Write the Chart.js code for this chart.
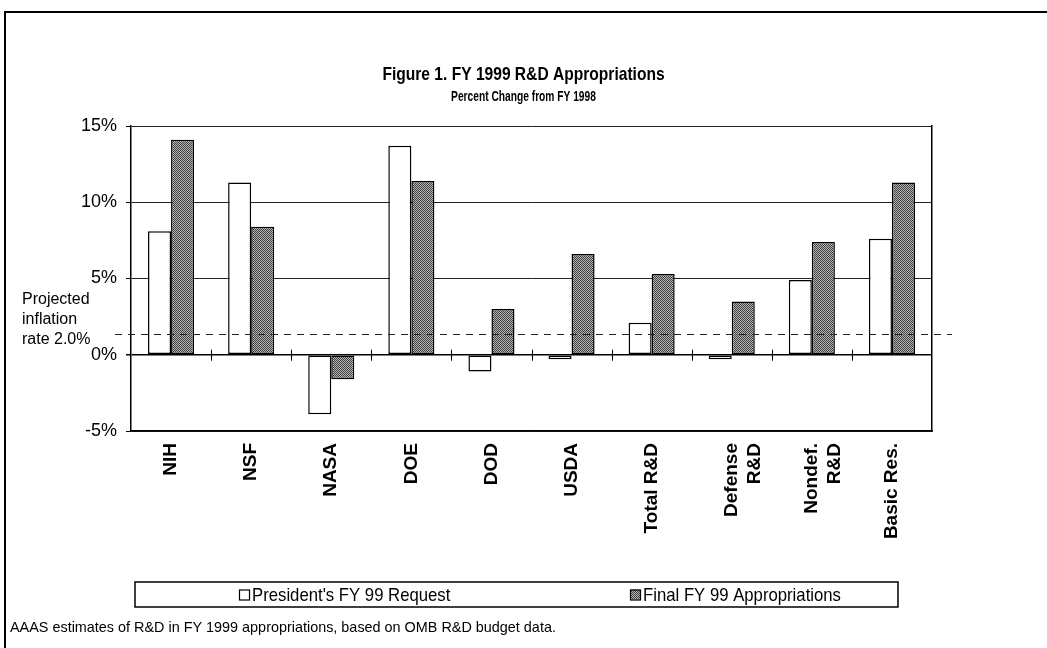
<!DOCTYPE html>
<html>
<head>
<meta charset="utf-8">
<script src="https://cdn.jsdelivr.net/npm/chart.js@4.4.0/dist/chart.umd.min.js"></script>
<style>
  html, body { margin: 0; padding: 0; background: #fff; }
  #wrap { position: relative; width: 1047px; height: 648px; overflow: hidden; }
  #frame { position: absolute; left: 4px; top: 11px; width: 1100px; height: 700px;
           border-left: 2px solid #000; border-top: 2px solid #000; }
  canvas { position: absolute; left: 0; top: 0; }
</style>
</head>
<body>
<div id="wrap">
  <div id="frame"></div>
  <canvas id="rdChart" width="1047" height="648"></canvas>
</div>
<script>
// -- data (percent change from FY 1998)
var categories = ['NIH', 'NSF', 'NASA', 'DOE', 'DOD', 'USDA', 'Total R&D',
                  ['Defense', 'R&D'], ['Nondef.', 'R&D'], 'Basic Res.'];
var requestFY99 = [8.1, 11.3, -3.9, 13.7, -1.1, -0.3, 2.1, -0.3, 4.9, 7.6];
var finalFY99   = [14.1, 8.4, -1.6, 11.4, 3.0, 6.6, 5.3, 3.5, 7.4, 11.3];
var seriesNames = ["President's FY 99 Request", 'Final FY 99 Appropriations'];
var yTicks = [-5, 0, 5, 10, 15];
var inflationLine = [1.35];   // where the dashed line sits on the axis
var inflationLabel = ['Projected', 'inflation', 'rate 2.0%'];
var titleText = 'Figure 1. FY 1999 R&D Appropriations';
var subtitleText = 'Percent Change from FY 1998';
var footnote = 'AAAS estimates of R&D in FY 1999 appropriations, based on OMB R&D budget data.';

var sans = "'Liberation Sans', Arial, sans-serif";

Chart.defaults.font.family = sans;
Chart.defaults.color = '#000';

var canvas = document.getElementById('rdChart');

// stippled grey like the printed original
var pat = document.createElement('canvas');
pat.width = 2; pat.height = 2;
var pctx = pat.getContext('2d');
pctx.fillStyle = '#b4b4b4';
pctx.fillRect(0, 0, 2, 2);
pctx.fillStyle = '#404040';
pctx.fillRect(0, 0, 1, 1);
pctx.fillRect(1, 1, 1, 1);
var stipple = canvas.getContext('2d').createPattern(pat, 'repeat');

// the original uses a condensed face, so squeeze the text horizontally
function narrowText(c, text, x, y, font, sx, align) {
  c.save();
  c.font = font;
  c.textAlign = align;
  c.textBaseline = 'middle';
  c.translate(x, y);
  c.scale(sx, 1);
  c.fillText(text, 0, 0);
  c.restore();
}

var decor = {
  id: 'decor',
  afterDatasetsDraw: function (chart) {
    var c = chart.ctx, area = chart.chartArea;
    var xs = chart.scales.x, ys = chart.scales.y;
    var y0 = ys.getPixelForValue(0);
    c.save();
    // small category ticks across the zero line
    c.strokeStyle = '#000';
    c.lineWidth = 1;
    for (var i = 1; i < categories.length; i++) {
      var xm = Math.round((xs.getPixelForTick(i - 1) + xs.getPixelForTick(i)) / 2) + 0.5;
      c.beginPath();
      c.moveTo(xm, y0 - 5);
      c.lineTo(xm, y0 + 6);
      c.stroke();
    }
    // inflation reference line
    var yi = Math.round(ys.getPixelForValue(inflationLine[0])) + 0.5;
    c.strokeStyle = '#222';
    c.setLineDash([7, 6]);
    c.beginPath();
    c.moveTo(area.left - 16, yi);
    c.lineTo(area.right + 20, yi);
    c.stroke();
    c.setLineDash([]);
    c.fillStyle = '#000';
    c.font = '16px ' + sans;
    c.textAlign = 'left';
    c.textBaseline = 'alphabetic';
    c.fillText(inflationLabel[0], 22, yi - 31);
    c.fillText(inflationLabel[1], 22, yi - 11);
    c.fillText(inflationLabel[2], 22, yi + 9);
    c.restore();
  },
  afterDraw: function (chart) {
    var c = chart.ctx, area = chart.chartArea;
    var H = chart.height, W = chart.width;
    c.save();
    c.fillStyle = '#000';
    // heading
    narrowText(c, titleText, W / 2, area.top - 51, 'bold 19px ' + sans, 0.82, 'center');
    narrowText(c, subtitleText, W / 2, area.top - 29, 'bold 14px ' + sans, 0.73, 'center');
    // legend frame
    var bl = area.left + 4, br = area.right - 34, bt = H - 66, bb = H - 41;
    c.strokeStyle = '#000';
    c.lineWidth = 1.5;
    c.strokeRect(bl, bt, br - bl, bb - bt);
    var my = (bt + bb) / 2;
    var starts = [bl + 104, bl + 495];
    for (var k = 0; k < seriesNames.length; k++) {
      var sx = starts[k];
      c.fillStyle = k === 0 ? '#fff' : stipple;
      c.fillRect(sx, my - 5, 10, 10);
      c.lineWidth = 1.2;
      c.strokeStyle = '#000';
      c.strokeRect(sx + 0.5, my - 4.5, 10, 10);
      c.fillStyle = '#000';
      narrowText(c, seriesNames[k], sx + 13, my + 1, '19px ' + sans, 0.88, 'left');
    }
    // source note
    narrowText(c, footnote, 10, H - 20, '15px ' + sans, 0.96, 'left');
    c.restore();
  }
};

var rdChart = new Chart(canvas, {
  type: 'bar',
  data: {
    labels: categories,
    datasets: [{
      label: seriesNames[0],
      data: requestFY99,
      backgroundColor: '#fff',
      borderColor: '#000',
      borderWidth: 1.5,
      borderSkipped: false
    }, {
      label: seriesNames[1],
      data: finalFY99,
      backgroundColor: stipple,
      borderColor: '#000',
      borderWidth: 1.5,
      borderSkipped: false
    }]
  },
  options: {
    responsive: false,
    animation: false,
    devicePixelRatio: 1,
    events: [],
    layout: { padding: { top: 126, left: 0, right: 0, bottom: 82 } },
    datasets: { bar: { barPercentage: 1, categoryPercentage: 0.575 } },
    plugins: {
      legend: { display: false },
      tooltip: { enabled: false },
      title: { display: false }
    },
    scales: {
      x: {
        grid: { display: false, drawTicks: false },
        border: { display: true, color: '#000', width: 1.5 },
        ticks: { autoSkip: false, minRotation: 90, maxRotation: 90, padding: 12,
                 font: { size: 19, weight: 'bold' }, color: '#000' },
        afterFit: function (s) { s.height = 135; }
      },
      y: {
        min: yTicks[0],
        max: yTicks[yTicks.length - 1],
        afterBuildTicks: function (s) { s.ticks = yTicks.map(function (v) { return { value: v }; }); },
        ticks: { padding: 9, font: { size: 18 }, color: '#000',
                 callback: function (v) { return v + '%'; } },
        grid: {
          color: function (ctx) { return ctx.tick && ctx.tick.value === 0 ? '#000' : '#222'; },
          lineWidth: function (ctx) { return ctx.tick && ctx.tick.value === 0 ? 1.5 : 1; },
          tickLength: 5,
          tickColor: '#000'
        },
        border: { display: true, color: '#000', width: 1.5 },
        afterFit: function (s) { s.width = 131; }
      },
      yRight: {
        position: 'right',
        grid: { display: false, drawTicks: false },
        ticks: { display: false },
        border: { display: true, color: '#000', width: 1.5 },
        afterFit: function (s) { s.width = 115; }
      }
    }
  },
  plugins: [decor]
});
</script>
</body>
</html>
